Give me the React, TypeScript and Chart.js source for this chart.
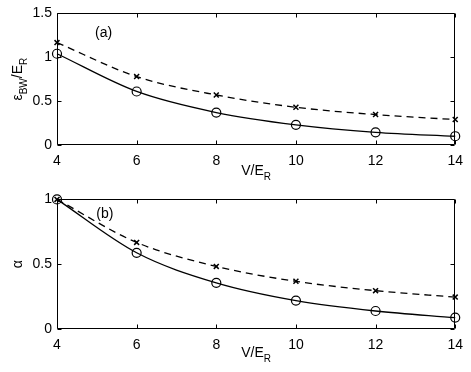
import React, { useEffect, useRef } from "react";
import { Chart, registerables } from "chart.js";

Chart.register(...registerables);

const xValues = [4, 6, 8, 10, 12, 14];
const topSolid = [1.04, 0.61, 0.37, 0.23, 0.145, 0.1];
const topDashed = [1.167, 0.78, 0.57, 0.43, 0.347, 0.29];
const bottomSolid = [1.0, 0.588, 0.356, 0.219, 0.139, 0.088];
const bottomDashed = [1.0, 0.668, 0.483, 0.368, 0.296, 0.246];
const xTicks = [4, 6, 8, 10, 12, 14];
const topYTicks = [0, 0.5, 1, 1.5];
const bottomYTicks = [0, 0.5, 1];

const FONT = "'Liberation Sans', Arial, Helvetica, sans-serif";

type Part = { t: string; sub?: boolean };

function drawParts(ctx: CanvasRenderingContext2D, parts: Part[], cx: number, cy: number, rotate: boolean) {
  const mainFont = `14px ${FONT}`;
  const subFont = `10px ${FONT}`;
  let total = 0;
  const widths = parts.map((p) => {
    ctx.font = p.sub ? subFont : mainFont;
    const w = ctx.measureText(p.t).width;
    total += w;
    return w;
  });
  ctx.save();
  ctx.translate(cx, cy);
  if (rotate) ctx.rotate(-Math.PI / 2);
  ctx.fillStyle = "#000";
  ctx.textAlign = "left";
  ctx.textBaseline = "alphabetic";
  let x = -total / 2;
  parts.forEach((p, i) => {
    ctx.font = p.sub ? subFont : mainFont;
    ctx.fillText(p.t, x, p.sub ? 5 : 0);
    x += widths[i];
  });
  ctx.restore();
}

type PanelProps = {
  solid: number[];
  dashed: number[];
  yTicks: number[];
  yMax: number;
  tag: string;
  tagX: number;
  tagY: number;
  yTitle: Part[];
  padTop: number;
  xAxisH: number;
  xTitleOffset: number;
};

function Panel(props: PanelProps) {
  const ref = useRef<HTMLCanvasElement | null>(null);
  useEffect(() => {
    if (!ref.current) return;
    const p = props;
    const boxPlugin = {
      id: "boxPlugin",
      afterDraw(chart: any) {
        const ctx = chart.ctx as CanvasRenderingContext2D;
        const a = chart.chartArea;
        const xs = chart.scales.x;
        const ys = chart.scales.y;
        const L = Math.round(a.left) + 0.5;
        const R = Math.round(a.right) - 0.5;
        const T = Math.round(a.top) + 0.5;
        const B = Math.round(a.bottom) - 0.5;
        ctx.save();
        ctx.strokeStyle = "#000";
        ctx.lineWidth = 1;
        ctx.beginPath();
        ctx.rect(L, T, R - L, B - T);
        xTicks.forEach((v) => {
          const px = Math.round(xs.getPixelForValue(v)) + 0.5;
          ctx.moveTo(px, B);
          ctx.lineTo(px, B - 4);
          ctx.moveTo(px, T);
          ctx.lineTo(px, T + 4);
        });
        p.yTicks.forEach((v) => {
          const py = Math.round(ys.getPixelForValue(v)) + 0.5;
          ctx.moveTo(L, py);
          ctx.lineTo(L + 4, py);
          ctx.moveTo(R, py);
          ctx.lineTo(R - 4, py);
        });
        ctx.stroke();
        ctx.font = `14px ${FONT}`;
        ctx.fillStyle = "#000";
        ctx.textAlign = "center";
        ctx.textBaseline = "middle";
        ctx.fillText(p.tag, xs.getPixelForValue(p.tagX), ys.getPixelForValue(p.tagY));
        ctx.restore();
        drawParts(ctx, [{ t: "V/E" }, { t: "R", sub: true }], (a.left + a.right) / 2, a.bottom + p.xTitleOffset, false);
        drawParts(ctx, p.yTitle, 22, (a.top + a.bottom) / 2, true);
      },
    };
    const chart = new Chart(ref.current, {
      type: "line",
      data: {
        datasets: [
          {
            data: xValues.map((x, i) => ({ x, y: p.dashed[i] })),
            borderColor: "#000",
            borderWidth: 1.3,
            borderDash: [7, 5],
            pointStyle: "crossRot",
            pointRadius: 3.5,
            pointBorderWidth: 1.5,
            pointBorderColor: "#000",
            pointBackgroundColor: "#000",
            cubicInterpolationMode: "monotone",
            clip: false,
          } as any,
          {
            data: xValues.map((x, i) => ({ x, y: p.solid[i] })),
            borderColor: "#000",
            borderWidth: 1.3,
            pointStyle: "circle",
            pointRadius: 4.5,
            pointBorderWidth: 1.2,
            pointBorderColor: "#000",
            pointBackgroundColor: "rgba(0,0,0,0)",
            cubicInterpolationMode: "monotone",
            clip: false,
          } as any,
        ],
      },
      options: {
        animation: false,
        responsive: false,
        events: [],
        layout: { padding: { left: 0, right: 12, top: p.padTop, bottom: 0 } },
        plugins: { legend: { display: false }, tooltip: { enabled: false } },
        scales: {
          x: {
            type: "linear",
            min: 4,
            max: 14,
            grid: { display: false, drawTicks: false },
            border: { display: false },
            afterBuildTicks: (s: any) => {
              s.ticks = xTicks.map((v) => ({ value: v }));
            },
            afterFit: (s: any) => {
              s.height = p.xAxisH;
            },
            ticks: {
              color: "#000",
              padding: 8,
              maxRotation: 0,
              font: { family: FONT, size: 14 },
              callback: (v: any) => String(v),
            },
          },
          y: {
            type: "linear",
            min: 0,
            max: p.yMax,
            grid: { display: false, drawTicks: false },
            border: { display: false },
            afterBuildTicks: (s: any) => {
              s.ticks = p.yTicks.map((v) => ({ value: v }));
            },
            afterFit: (s: any) => {
              s.width = 57;
            },
            ticks: {
              color: "#000",
              padding: 5,
              font: { family: FONT, size: 14 },
              callback: (v: any) => String(v),
            },
          },
        },
      },
      plugins: [boxPlugin],
    });
    return () => chart.destroy();
  }, []);
  return <canvas ref={ref} width={471} height={186} style={{ display: "block", width: 471, height: 186 }} />;
}

export default function App() {
  return (
    <div style={{ position: "fixed", left: 0, top: 0, width: 471, height: 372, background: "#fff" }}>
      <Panel
        solid={topSolid}
        dashed={topDashed}
        yTicks={topYTicks}
        yMax={1.5}
        tag="(a)"
        tagX={5.17}
        tagY={1.28}
        yTitle={[{ t: "ε" }, { t: "BW", sub: true }, { t: "/E" }, { t: "R", sub: true }]}
        padTop={12}
        xAxisH={41}
        xTitleOffset={30}
      />
      <Panel
        solid={bottomSolid}
        dashed={bottomDashed}
        yTicks={bottomYTicks}
        yMax={1}
        tag="(b)"
        tagX={5.2}
        tagY={0.89}
        yTitle={[{ t: "α" }]}
        padTop={9}
        xAxisH={43}
        xTitleOffset={28}
      />
    </div>
  );
}
